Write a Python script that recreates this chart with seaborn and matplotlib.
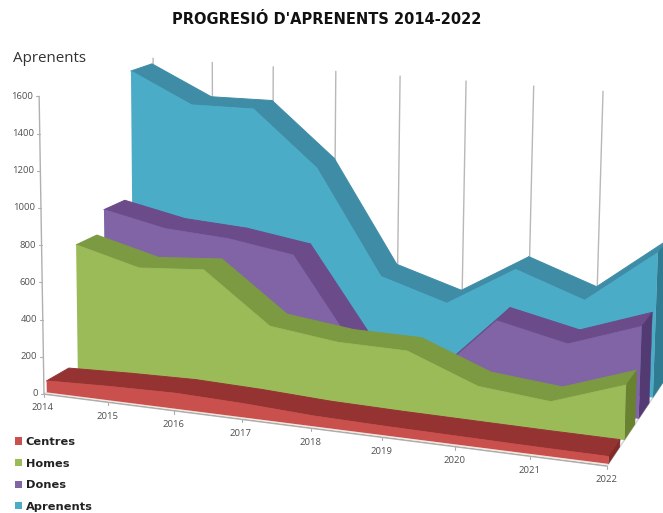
import numpy as np
import pandas as pd
import matplotlib
matplotlib.use("Agg")
import matplotlib.pyplot as plt
from matplotlib.patches import Patch
import seaborn as sns

years = [2014, 2015, 2016, 2017, 2018, 2019, 2020, 2021, 2022]
centres = [62, 75, 83, 73, 55, 48, 44, 40, 38]
homes = [715, 625, 653, 386, 341, 337, 192, 156, 290]
dones = [839, 766, 745, 690, 178, 68, 445, 361, 498]
aprenents = [1569, 1401, 1406, 1099, 519, 405, 632, 498, 800]
value_ticks = [0, 200, 400, 600, 800, 1000, 1200, 1400, 1600]

series_names = ["Centres", "Homes", "Dones", "Aprenents"]
series_values = [centres, homes, dones, aprenents]
face_colors = ["#C9504C", "#9BBB59", "#8064A6", "#4BACC8"]
top_colors = ["#953333", "#7C9A42", "#6B4B8A", "#3F8CA6"]
side_colors = ["#7F2B2A", "#68822F", "#533A73", "#2F7C92"]

sns.set_theme(style="white")
plt.rcParams["font.family"] = ["Open Sans", "DejaVu Sans"]

# Floor of the 3D box in pixel space
FRONT_LEFT = np.array([44.0, 394.0])
FRONT_RIGHT = np.array([607.0, 466.0])
BACK_RIGHT = np.array([664.0, 381.0])
BACK_LEFT = np.array([155.0, 329.0])
VALUE_SCALE = 0.186
LEAN_X, LEAN_DIST = 240.0, 12000.0


def project(u, w, v=0.0):
    """Map (year index, depth 0-1, value) to pixel position."""
    s = u / 8 + 0.0016 * u * (u - 8)  # years spread out towards the viewer
    front = FRONT_LEFT + (FRONT_RIGHT - FRONT_LEFT) * s
    back = BACK_LEFT + (BACK_RIGHT - BACK_LEFT) * s
    x, y = front + (back - front) * w
    h = v * VALUE_SCALE * (1 - 0.09 * w) * (1 + 0.00625 * u)
    return x + (x - LEAN_X) * h / LEAN_DIST, y - h


fig = plt.figure(figsize=(6.63, 5.13), dpi=100)
ax = fig.add_axes([0, 0, 1, 1])

# Back wall gridlines
for i in range(len(years)):
    pts = [project(i, 1, 0), project(i, 1, value_ticks[-1])]
    ax.plot(*zip(*pts), color="#B8B8B8", lw=1, zorder=1)

# Floor edges
front_edge = [project(0, 0), project(8, 0)]
right_edge = [project(8, 0), project(8, 1)]
ax.plot(*zip(*front_edge), color="#ADADAD", lw=1.2, zorder=2)
ax.plot(*zip(*right_edge), color="#D0D0D0", lw=1, zorder=2)
ax.plot([p[0] for p in front_edge], [p[1] - 1.5 for p in front_edge],
        color="#F2E8DC", lw=1, zorder=2)

# Year ticks and labels
for i, yr in enumerate(years):
    x, y = project(i, 0)
    ax.plot([x, x], [y, y + 3], color="#ADADAD", lw=0.8, zorder=2)
    ax.text(x - 1, y + 14, str(yr), ha="center", va="center", fontsize=6.8, color="#505050")

# Value axis
axis_pts = [project(0, 0, v) for v in value_ticks]
ax.plot(*zip(*axis_pts), color="#B0B0B0", lw=1, zorder=2)
for v, (x, y) in zip(value_ticks, axis_pts):
    ax.plot([x - 3, x], [y, y], color="#B0B0B0", lw=0.8, zorder=2)
    ax.text(x - 6, y, str(v), ha="right", va="center", fontsize=6.8, color="#505050")

# Series ribbons, drawn from the back of the box to the front
base_z = 3
for idx in range(len(series_names) - 1, -1, -1):
    values = series_values[idx]
    w_front = (idx + 0.1) / 4 + (0.03 if idx else 0)
    w_back = (idx + 0.9) / 4 + (0.015 if idx else 0)
    z = base_z + (len(series_names) - idx) * 3
    for i in range(len(years) - 1):
        quad = [project(i, w_front, values[i]), project(i + 1, w_front, values[i + 1]),
                project(i + 1, w_back, values[i + 1]), project(i, w_back, values[i])]
        ax.fill(*zip(*quad), color=top_colors[idx], lw=0.7, zorder=z)
    last = len(years) - 1
    cap = [project(last, w_front, values[last]), project(last, w_back, values[last]),
           project(last, w_back, 0), project(last, w_front, 0)]
    ax.fill(*zip(*cap), color=side_colors[idx], lw=0.3, zorder=z)
    top_line = [project(i, w_front, values[i]) for i in range(len(years))]
    base_line = [project(i, w_front, 0) for i in range(last, -1, -1)]
    ax.fill(*zip(*(top_line + base_line)), color=face_colors[idx], lw=0, zorder=z + 1)

    edges = pd.DataFrame(top_line, columns=["x", "y"])
    sns.lineplot(data=edges, x="x", y="y", sort=False, estimator=None, ax=ax,
                 color=face_colors[idx], lw=0.6, zorder=z + 1, legend=False)

ax.set_xlim(0, 663)
ax.set_ylim(513, 0)
ax.axis("off")

# Titles
ax.text(327, 20, "PROGRESIÓ D'APRENENTS 2014-2022", ha="center", va="center",
        fontsize=10.5, fontweight="bold", family="DejaVu Sans", color="#111111")
ax.text(13, 59, "Aprenents", ha="left", va="center", fontsize=10.9, color="#333333")

# Legend
handles = [Patch(facecolor=c, edgecolor="none") for c in face_colors]
ax.legend(handles, series_names, loc="upper left", bbox_to_anchor=(15 / 663, 1 - 437 / 513),
          frameon=False, handlelength=0.6, handleheight=0.6, handletextpad=0.35,
          labelspacing=1.02, borderpad=0, borderaxespad=0,
          prop={"family": "DejaVu Sans", "weight": "bold", "size": 8.2}, labelcolor="#222222")

fig.savefig("out.png", dpi=100, facecolor="white")
